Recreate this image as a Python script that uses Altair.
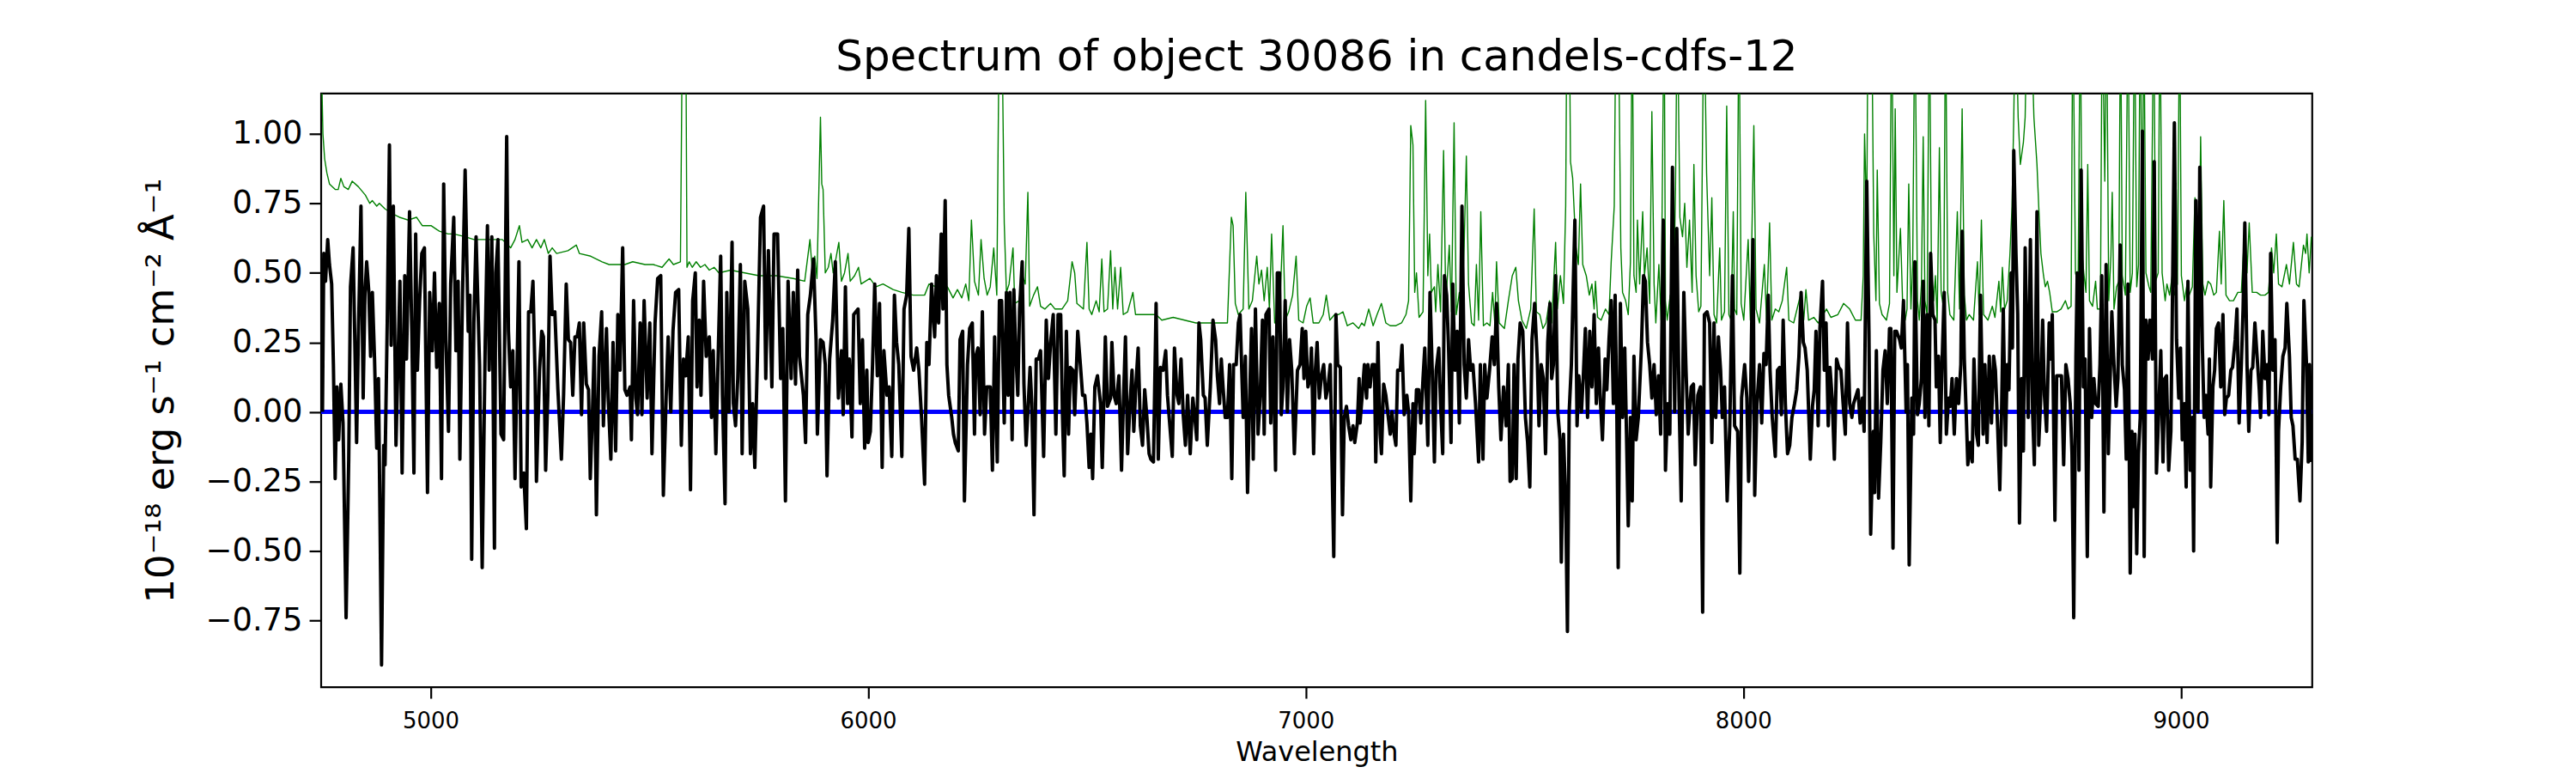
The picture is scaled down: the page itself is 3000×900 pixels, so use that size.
import altair as alt
import pandas as pd

# ---------------- black: object flux (wavelength [A], flux [1e-18 erg/s/cm2/A]) ----------------
flux_4750_5520 = [
    (4753, 0.0), (4756, 0.57), (4760, 0.47), (4765, 0.62), (4769, 0.53), (4774, 0.46), (4778, 0.17),
    (4782, -0.24), (4786, 0.09), (4790, -0.1), (4795, 0.1), (4800, -0.04), (4807, -0.74), (4813, -0.17),
    (4817, 0.45), (4823, 0.59), (4827, 0.25), (4831, -0.11), (4835, 0.27), (4841, 0.74), (4846, 0.05),
    (4850, 0.42), (4854, 0.54), (4859, 0.43), (4863, 0.2), (4867, 0.43), (4872, 0.19), (4877, -0.13),
    (4881, 0.12), (4888, -0.91), (4893, -0.12), (4896, -0.19), (4901, 0.32), (4906, 0.96), (4910, 0.24),
    (4915, 0.74), (4921, -0.12), (4924, 0.08), (4930, 0.47), (4935, -0.22), (4941, 0.49), (4945, 0.19),
    (4952, 0.72), (4957, 0.3), (4962, -0.22), (4966, 0.64), (4970, 0.15), (4975, 0.4), (4980, 0.57),
    (4986, 0.59), (4993, -0.29), (4998, 0.43), (5004, 0.22), (5009, 0.5), (5014, 0.16), (5020, 0.39),
    (5025, -0.24), (5030, 0.82), (5035, 0.26), (5041, -0.07), (5046, 0.46), (5053, 0.7), (5058, 0.22),
    (5063, 0.47), (5067, -0.17), (5073, 0.42), (5079, 0.87), (5086, 0.29), (5090, 0.42), (5094, -0.53),
    (5099, 0.32), (5104, 0.63), (5112, 0.17), (5118, -0.56), (5125, 0.26), (5130, 0.67), (5134, 0.15),
    (5140, 0.63), (5146, -0.49), (5149, 0.5), (5154, 0.62), (5161, -0.08), (5167, -0.1), (5174, 0.99),
    (5178, 0.29), (5183, 0.09), (5188, 0.22), (5193, -0.24), (5202, 0.54), (5207, -0.27), (5213, -0.22),
    (5219, -0.42), (5224, 0.36), (5229, 0.36), (5234, 0.47), (5239, 0.12), (5242, -0.25), (5249, 0.15),
    (5254, 0.29), (5258, 0.27), (5263, -0.21), (5268, 0.06), (5273, 0.56), (5278, 0.35), (5284, 0.36),
    (5291, 0.08), (5299, -0.17), (5304, 0.06), (5310, 0.46), (5315, 0.26), (5320, 0.25), (5325, 0.06),
    (5330, 0.27), (5335, 0.27), (5340, 0.32), (5345, -0.01), (5350, 0.32), (5356, 0.1), (5361, 0.08),
    (5365, -0.24), (5370, 0.0), (5374, 0.23), (5379, -0.37), (5385, 0.2), (5391, 0.36), (5395, -0.05),
    (5402, 0.3), (5406, 0.05), (5412, -0.17), (5417, 0.25), (5423, -0.14), (5428, 0.35), (5433, 0.15),
    (5439, 0.59), (5444, 0.08), (5449, 0.06), (5456, 0.09), (5459, -0.1), (5464, 0.4), (5469, 0.05),
    (5473, -0.01), (5479, 0.32), (5483, -0.01), (5488, 0.4), (5495, 0.05), (5501, 0.32), (5506, -0.15),
    (5513, 0.32), (5519, 0.48),
]
flux_5520_6315 = [
    (5526, 0.49), (5532, -0.3), (5539, 0.09), (5543, 0.27), (5549, 0.0), (5554, 0.29), (5560, 0.43),
    (5567, 0.44), (5573, -0.12), (5578, 0.19), (5583, 0.13), (5589, 0.27), (5594, -0.28), (5599, 0.4),
    (5605, 0.5), (5609, 0.09), (5614, 0.33), (5618, 0.06), (5624, 0.47), (5630, 0.2), (5637, 0.27),
    (5642, -0.02), (5646, 0.22), (5652, -0.15), (5658, 0.25), (5663, 0.56), (5667, 0.06), (5673, -0.33),
    (5677, 0.43), (5682, 0.0), (5689, 0.61), (5692, 0.03), (5697, -0.05), (5702, 0.12), (5708, 0.53),
    (5712, -0.15), (5718, 0.47), (5725, 0.37), (5731, -0.15), (5736, 0.03), (5741, -0.2), (5747, 0.2),
    (5754, 0.7), (5761, 0.74), (5766, 0.12), (5772, 0.58), (5780, 0.09), (5785, 0.64), (5793, 0.64),
    (5800, 0.12), (5805, 0.3), (5811, -0.32), (5817, 0.47), (5824, 0.12), (5829, 0.43), (5834, 0.1),
    (5839, 0.51), (5843, 0.2), (5852, 0.06), (5857, -0.11), (5862, 0.35), (5868, 0.42), (5875, 0.55),
    (5881, 0.26), (5884, -0.08), (5891, 0.26), (5897, 0.25), (5902, 0.17), (5906, -0.23), (5912, 0.19),
    (5919, 0.33), (5925, 0.54), (5932, 0.05), (5939, 0.22), (5943, -0.01), (5948, 0.45), (5953, 0.03),
    (5957, 0.19), (5963, -0.09), (5967, 0.35), (5972, 0.36), (5977, 0.37), (5982, 0.03), (5987, 0.26),
    (5992, -0.13), (5997, 0.15), (6000, -0.11), (6005, -0.07), (6010, 0.17), (6015, 0.46), (6021, 0.13),
    (6026, 0.39), (6032, -0.2), (6036, 0.22), (6043, 0.06), (6048, 0.09), (6054, -0.16), (6060, 0.42),
    (6065, 0.25), (6070, 0.17), (6077, -0.16), (6082, 0.37), (6088, 0.42), (6093, 0.66), (6098, 0.2),
    (6104, 0.15), (6111, 0.23), (6116, 0.15), (6122, -0.02), (6129, -0.26), (6134, 0.25), (6139, 0.17),
    (6145, 0.46), (6152, 0.27), (6156, 0.49), (6161, 0.32), (6167, 0.64), (6171, 0.37), (6176, 0.76),
    (6180, 0.17), (6184, 0.06), (6191, -0.02), (6195, -0.08), (6199, -0.11), (6206, -0.14), (6210, 0.26),
    (6216, 0.29), (6220, -0.32), (6227, 0.17), (6232, 0.3), (6238, 0.32), (6243, -0.08), (6246, 0.2),
    (6251, 0.23), (6256, -0.01), (6261, 0.36), (6266, -0.08), (6271, 0.09), (6279, 0.09), (6284, -0.21),
    (6289, 0.27), (6295, -0.18), (6300, 0.4), (6305, 0.4), (6311, -0.04),
]
flux_6315_7123 = [
    (6316, 0.43), (6320, 0.06), (6324, 0.43), (6329, -0.1), (6333, 0.44), (6337, 0.23), (6342, 0.06),
    (6346, 0.37), (6352, 0.54), (6356, 0.1), (6361, -0.12), (6365, 0.0), (6370, 0.16), (6374, 0.03),
    (6379, -0.37), (6384, 0.19), (6389, 0.19), (6394, 0.22), (6401, -0.16), (6407, 0.33), (6412, 0.12),
    (6417, 0.25), (6423, 0.35), (6429, -0.08), (6434, 0.35), (6440, 0.35), (6444, -0.01), (6448, -0.23),
    (6453, 0.29), (6458, -0.08), (6462, 0.16), (6468, 0.15), (6472, -0.01), (6479, 0.29), (6485, 0.17),
    (6490, 0.06), (6495, 0.06), (6500, -0.04), (6505, -0.2), (6509, -0.08), (6513, -0.24), (6518, 0.09),
    (6524, 0.13), (6531, 0.03), (6535, -0.2), (6542, 0.27), (6547, 0.02), (6554, 0.05), (6557, 0.25),
    (6562, 0.06), (6567, 0.03), (6573, 0.13), (6579, -0.21), (6583, 0.02), (6588, 0.27), (6593, -0.15),
    (6598, 0.02), (6603, 0.15), (6607, -0.07), (6612, 0.1), (6617, 0.23), (6622, -0.05), (6627, -0.12),
    (6632, 0.08), (6637, -0.02), (6642, -0.15), (6646, -0.17), (6652, -0.18), (6658, 0.39), (6663, -0.17),
    (6668, 0.16), (6674, 0.15), (6680, 0.22), (6684, 0.06), (6689, -0.04), (6695, -0.16), (6700, 0.23),
    (6706, 0.06), (6710, 0.03), (6715, 0.19), (6720, -0.01), (6725, -0.12), (6730, 0.06), (6736, -0.15),
    (6742, 0.05), (6746, -0.01), (6751, -0.1), (6756, 0.32), (6760, 0.26), (6766, 0.06), (6770, 0.05),
    (6775, -0.12), (6782, 0.09), (6788, 0.33), (6794, 0.26), (6798, 0.13), (6803, 0.03), (6807, 0.19),
    (6811, 0.09), (6816, -0.02), (6821, -0.02), (6826, 0.17), (6831, -0.24), (6835, 0.17), (6841, 0.17),
    (6846, 0.32), (6850, 0.35), (6857, -0.02), (6862, 0.2), (6867, -0.29), (6872, 0.06), (6876, 0.3),
    (6880, -0.17), (6885, 0.37), (6891, -0.08), (6896, 0.06), (6901, 0.33), (6905, -0.08), (6909, 0.35),
    (6916, 0.37), (6920, -0.04), (6925, 0.27), (6931, -0.21), (6935, 0.5), (6940, 0.5), (6944, -0.01),
    (6948, 0.09), (6953, 0.4), (6958, 0.0), (6963, 0.26), (6968, 0.15), (6974, -0.15), (6981, 0.15),
    (6987, 0.17), (6992, 0.3), (6996, 0.12), (7000, 0.29), (7005, 0.09), (7010, 0.12), (7013, 0.23),
    (7018, -0.15), (7022, 0.15), (7026, 0.25), (7031, 0.05), (7036, 0.13), (7041, 0.17), (7046, 0.05),
    (7051, 0.09), (7056, 0.17), (7064, -0.52), (7069, 0.35), (7073, 0.17), (7079, 0.16), (7084, -0.37),
    (7088, -0.02), (7093, 0.02), (7098, -0.05), (7103, -0.1), (7108, -0.05), (7112, -0.11), (7118, -0.04),
    (7122, 0.12),
]
flux_7123_7930 = [
    (7124, -0.04), (7129, 0.06), (7134, 0.17), (7139, 0.05), (7142, 0.17), (7147, 0.09), (7152, 0.17),
    (7157, 0.17), (7160, -0.18), (7165, 0.25), (7170, -0.08), (7173, -0.15), (7178, 0.1), (7183, 0.06),
    (7188, -0.01), (7193, -0.08), (7197, 0.0), (7201, -0.07), (7206, -0.12), (7210, 0.15), (7216, 0.15),
    (7220, 0.24), (7225, -0.01), (7231, 0.06), (7235, 0.0), (7240, -0.32), (7245, 0.03), (7248, -0.15),
    (7253, 0.08), (7258, 0.08), (7263, -0.04), (7268, 0.12), (7272, 0.23), (7279, -0.12), (7284, 0.43),
    (7289, 0.15), (7294, -0.18), (7298, 0.15), (7304, 0.23), (7308, 0.03), (7313, -0.15), (7317, 0.49),
    (7322, 0.42), (7326, 0.25), (7332, -0.11), (7336, 0.46), (7341, 0.15), (7346, 0.29), (7351, -0.04),
    (7357, 0.74), (7362, 0.17), (7367, 0.05), (7372, 0.26), (7377, 0.15), (7382, 0.17), (7388, 0.03),
    (7395, -0.18), (7399, 0.17), (7405, -0.17), (7409, 0.17), (7414, 0.05), (7420, 0.15), (7426, 0.27),
    (7431, 0.17), (7436, 0.39), (7441, 0.09), (7446, -0.1), (7452, 0.09), (7458, -0.05), (7463, 0.17),
    (7467, -0.25), (7472, -0.24), (7476, 0.17), (7481, -0.24), (7485, 0.19), (7490, 0.32), (7496, 0.29),
    (7502, -0.02), (7507, -0.11), (7512, -0.27), (7517, 0.26), (7523, 0.39), (7529, 0.19), (7533, -0.05),
    (7538, 0.17), (7543, 0.12), (7548, -0.15), (7553, 0.25), (7558, 0.39), (7562, 0.12), (7566, 0.17),
    (7571, 0.49), (7576, 0.0), (7581, -0.1), (7584, -0.54), (7589, -0.08), (7594, -0.32), (7598, -0.79),
    (7602, 0.0), (7607, 0.17), (7610, 0.37), (7615, 0.69), (7620, -0.05), (7624, 0.13), (7630, 0.0),
    (7634, 0.12), (7639, 0.3), (7644, -0.02), (7649, 0.29), (7654, 0.09), (7659, 0.35), (7664, 0.03),
    (7669, 0.23), (7673, 0.05), (7678, -0.1), (7684, 0.19), (7688, 0.08), (7693, 0.26), (7698, 0.4),
    (7703, 0.03), (7707, 0.42), (7711, -0.02), (7714, -0.56), (7719, 0.39), (7724, -0.02), (7729, 0.23),
    (7733, -0.08), (7737, -0.41), (7742, -0.02), (7746, -0.32), (7750, 0.2), (7755, -0.1), (7760, -0.02),
    (7767, 0.23), (7772, 0.49), (7776, 0.47), (7781, 0.25), (7786, 0.17), (7791, 0.05), (7796, 0.17),
    (7801, -0.01), (7806, 0.13), (7811, -0.08), (7817, 0.69), (7822, -0.21), (7827, 0.03), (7832, -0.08),
    (7838, 0.88), (7843, 0.0), (7848, 0.66), (7853, 0.05), (7858, -0.32), (7864, 0.43), (7869, 0.15),
    (7874, -0.08), (7881, 0.09), (7886, 0.1), (7890, -0.19), (7896, 0.06), (7902, 0.09), (7907, -0.72),
    (7911, 0.35), (7917, 0.36), (7923, 0.32), (7928, -0.11),
]
flux_7930_8580 = [
    (7933, 0.32), (7937, -0.02), (7943, 0.27), (7948, 0.15), (7952, -0.02), (7957, 0.09), (7963, -0.32),
    (7969, -0.05), (7975, 0.49), (7980, -0.05), (7987, -0.07), (7992, -0.58), (7996, 0.05), (8003, 0.17),
    (8008, 0.05), (8012, -0.25), (8016, 0.0), (8022, 0.62), (8026, -0.3), (8031, 0.03), (8037, 0.17),
    (8042, -0.04), (8047, 0.21), (8052, 0.17), (8057, 0.42), (8061, 0.15), (8066, -0.02), (8073, -0.16),
    (8078, 0.15), (8083, 0.16), (8087, -0.01), (8091, 0.33), (8096, 0.03), (8101, -0.15), (8106, -0.12),
    (8111, -0.02), (8117, 0.03), (8122, 0.08), (8127, 0.2), (8132, 0.43), (8137, 0.25), (8141, 0.23),
    (8146, 0.15), (8153, -0.17), (8158, 0.02), (8162, 0.08), (8166, 0.29), (8171, -0.05), (8175, 0.3),
    (8181, 0.47), (8185, 0.15), (8189, 0.32), (8194, -0.05), (8198, 0.16), (8203, 0.05), (8208, -0.17),
    (8213, 0.19), (8218, 0.16), (8223, 0.15), (8228, 0.03), (8233, -0.08), (8238, 0.32), (8243, 0.03),
    (8248, -0.02), (8252, 0.03), (8258, 0.06), (8262, 0.08), (8267, -0.04), (8272, 0.05), (8276, -0.07),
    (8282, 0.83), (8287, 0.29), (8291, -0.44), (8297, -0.07), (8300, -0.29), (8304, 0.22), (8309, -0.31),
    (8314, -0.11), (8319, 0.15), (8324, 0.22), (8329, 0.03), (8334, 0.3), (8337, 0.3), (8342, -0.49),
    (8346, 0.29), (8350, 0.29), (8357, 0.26), (8361, 0.23), (8366, 0.4), (8372, 0.0), (8375, 0.17),
    (8379, -0.55), (8385, 0.05), (8389, -0.08), (8392, 0.54), (8398, -0.01), (8402, 0.03), (8407, 0.12),
    (8411, 0.47), (8415, -0.02), (8420, 0.35), (8424, -0.05), (8428, 0.57), (8433, 0.35), (8438, 0.33),
    (8441, 0.09), (8446, 0.2), (8450, -0.11), (8454, 0.17), (8459, 0.43), (8464, -0.08), (8469, 0.05),
    (8473, 0.02), (8477, 0.12), (8482, -0.08), (8487, 0.12), (8492, 0.03), (8497, 0.17), (8500, 0.65),
    (8505, 0.19), (8510, -0.04), (8513, -0.19), (8518, -0.11), (8523, -0.18), (8527, 0.19), (8533, -0.08),
    (8537, -0.12), (8542, 0.42), (8548, -0.08), (8552, 0.17), (8557, -0.11), (8562, 0.2), (8567, -0.04),
    (8572, 0.2), (8576, 0.15),
]
flux_8580_9300 = [
    (8581, -0.05), (8586, -0.28), (8590, -0.01), (8594, 0.37), (8599, -0.12), (8603, 0.17), (8607, 0.08),
    (8612, 0.5), (8615, 0.23), (8618, 0.94), (8623, 0.57), (8627, 0.35), (8631, -0.4), (8636, 0.12),
    (8640, -0.14), (8644, 0.59), (8651, -0.02), (8656, 0.62), (8661, 0.0), (8665, -0.19), (8671, 0.72),
    (8675, -0.12), (8679, 0.03), (8684, 0.33), (8688, 0.06), (8693, -0.07), (8699, 0.32), (8703, 0.19),
    (8706, 0.35), (8712, -0.39), (8716, 0.13), (8723, 0.13), (8727, 0.13), (8732, -0.19), (8737, 0.17),
    (8742, 0.12), (8747, 0.03), (8751, -0.15), (8755, -0.74), (8760, 0.2), (8763, 0.5), (8767, -0.21),
    (8772, 0.87), (8777, 0.09), (8781, 0.19), (8786, -0.52), (8791, 0.3), (8796, -0.02), (8801, 0.12),
    (8805, 0.03), (8811, 0.02), (8815, 0.17), (8819, 0.49), (8824, -0.36), (8829, 0.53), (8834, -0.15),
    (8838, 0.1), (8842, 0.36), (8847, 0.17), (8852, 0.02), (8856, 0.12), (8861, 0.6), (8866, 0.17),
    (8871, 0.08), (8875, -0.17), (8879, 0.46), (8884, -0.58), (8888, -0.07), (8892, -0.34), (8895, -0.08),
    (8899, -0.51), (8903, -0.15), (8907, -0.02), (8912, 1.01), (8916, -0.52), (8920, 0.33), (8925, 0.19),
    (8929, 0.33), (8935, 0.19), (8939, 0.9), (8944, -0.22), (8949, -0.01), (8954, 0.22), (8959, -0.18),
    (8963, 0.12), (8967, 0.13), (8972, -0.21), (8977, -0.07), (8980, 0.32), (8985, 1.04), (8990, 0.26),
    (8995, 0.05), (8999, 0.23), (9003, -0.1), (9008, 0.03), (9012, -0.27), (9016, 0.47), (9021, -0.21),
    (9026, -0.02), (9029, -0.5), (9034, 0.76), (9039, 0.0), (9043, 0.88), (9049, 0.23), (9053, -0.02),
    (9057, 0.06), (9062, -0.08), (9065, 0.19), (9068, -0.27), (9073, 0.09), (9077, 0.15), (9081, 0.3),
    (9086, 0.32), (9091, 0.09), (9096, 0.35), (9100, -0.01), (9104, 0.05), (9109, 0.06), (9114, 0.15),
    (9118, 0.16), (9124, 0.26), (9128, 0.37), (9133, -0.04), (9138, 0.17), (9142, 0.37), (9146, 0.68),
    (9151, 0.17), (9155, -0.07), (9160, 0.15), (9164, 0.16), (9169, 0.32), (9174, 0.2), (9179, 0.08),
    (9182, -0.02), (9187, 0.29), (9192, 0.12), (9197, 0.17), (9201, -0.01), (9205, 0.57), (9210, 0.15),
    (9215, 0.26), (9220, -0.47), (9223, -0.07), (9228, 0.09), (9233, 0.2), (9238, 0.23), (9242, 0.39),
    (9248, 0.2), (9252, -0.02), (9256, -0.05), (9261, -0.17), (9266, -0.17), (9272, -0.32), (9277, -0.11),
    (9281, 0.4), (9287, 0.17), (9291, -0.18), (9294, 0.17), (9298, -0.18),
]

# ---------------- green: sky / noise spectrum ----------------
sky_4750_5520 = [
    (4750, 1.3), (4754, 1.0), (4758, 0.91), (4763, 0.86), (4769, 0.82), (4782, 0.8), (4789, 0.8),
    (4795, 0.84), (4802, 0.81), (4812, 0.8), (4821, 0.83), (4835, 0.81), (4851, 0.78), (4861, 0.75),
    (4867, 0.76), (4877, 0.74), (4883, 0.75), (4896, 0.73), (4916, 0.71), (4929, 0.7), (4949, 0.69),
    (4968, 0.7), (4981, 0.67), (5001, 0.67), (5020, 0.65), (5040, 0.64), (5053, 0.64), (5079, 0.63),
    (5099, 0.62), (5118, 0.62), (5144, 0.62), (5164, 0.62), (5183, 0.59), (5193, 0.62), (5203, 0.67),
    (5209, 0.61), (5222, 0.62), (5232, 0.59), (5242, 0.62), (5252, 0.59), (5260, 0.62), (5269, 0.57),
    (5278, 0.59), (5288, 0.57), (5314, 0.58), (5333, 0.6), (5340, 0.57), (5366, 0.56), (5392, 0.54),
    (5408, 0.53), (5431, 0.53), (5444, 0.53), (5462, 0.54), (5490, 0.53), (5509, 0.53),
]
sky_5520_6310 = [
    (5529, 0.52), (5545, 0.55), (5555, 0.53), (5571, 0.54), (5576, 1.5), (5583, 1.5), (5586, 0.52),
    (5591, 0.54), (5598, 0.52), (5607, 0.54), (5617, 0.52), (5627, 0.53), (5637, 0.51), (5648, 0.52),
    (5659, 0.5), (5686, 0.51), (5718, 0.5), (5751, 0.49), (5790, 0.49), (5829, 0.48), (5855, 0.47),
    (5867, 0.62), (5873, 0.49), (5878, 0.56), (5883, 0.48), (5891, 1.06), (5894, 0.82), (5897, 0.8),
    (5902, 0.5), (5909, 0.52), (5915, 0.57), (5920, 0.5), (5925, 0.54), (5933, 0.61), (5939, 0.47),
    (5946, 0.5), (5954, 0.57), (5959, 0.47), (5969, 0.49), (5978, 0.52), (5984, 0.46), (6004, 0.48),
    (6018, 0.45), (6034, 0.46), (6057, 0.44), (6077, 0.43), (6103, 0.42), (6129, 0.42), (6139, 0.46),
    (6155, 0.45), (6181, 0.45), (6194, 0.41), (6204, 0.44), (6214, 0.41), (6223, 0.46), (6230, 0.4),
    (6236, 0.69), (6243, 0.47), (6252, 0.42), (6258, 0.62), (6265, 0.48), (6272, 0.42), (6279, 0.45),
    (6287, 0.59), (6294, 0.42), (6300, 1.5), (6305, 1.5),
]
sky_6310_7100 = [
    (6311, 0.68), (6316, 0.43), (6322, 0.46), (6331, 0.59), (6335, 0.39), (6345, 0.4), (6353, 0.49),
    (6359, 0.46), (6365, 0.79), (6369, 0.38), (6378, 0.42), (6387, 0.45), (6394, 0.38), (6404, 0.37),
    (6417, 0.39), (6427, 0.37), (6443, 0.37), (6456, 0.4), (6466, 0.54), (6472, 0.5), (6477, 0.39),
    (6492, 0.37), (6500, 0.61), (6505, 0.37), (6511, 0.35), (6521, 0.4), (6528, 0.36), (6534, 0.55),
    (6539, 0.36), (6547, 0.37), (6554, 0.58), (6559, 0.37), (6564, 0.52), (6570, 0.37), (6577, 0.52),
    (6583, 0.35), (6593, 0.36), (6605, 0.43), (6611, 0.35), (6625, 0.35), (6639, 0.35), (6658, 0.35),
    (6671, 0.33), (6697, 0.34), (6723, 0.33), (6749, 0.32), (6775, 0.32), (6801, 0.32), (6821, 0.32),
    (6830, 0.7), (6834, 0.67), (6839, 0.39), (6846, 0.35), (6857, 0.37), (6863, 0.79), (6870, 0.37),
    (6878, 0.4), (6888, 0.56), (6893, 0.46), (6899, 0.51), (6905, 0.4), (6912, 0.52), (6917, 0.37),
    (6922, 0.64), (6929, 0.32), (6935, 0.33), (6942, 0.43), (6948, 0.67), (6953, 0.33), (6961, 0.36),
    (6970, 0.42), (6978, 0.56), (6984, 0.33), (6994, 0.32), (7002, 0.38), (7010, 0.41), (7017, 0.32),
    (7030, 0.32), (7040, 0.35), (7047, 0.42), (7055, 0.33), (7066, 0.35), (7075, 0.35), (7085, 0.36),
    (7095, 0.31),
]
sky_7100_7930 = [
    (7108, 0.32), (7121, 0.3), (7128, 0.32), (7134, 0.31), (7144, 0.37), (7154, 0.31), (7163, 0.35),
    (7173, 0.39), (7183, 0.32), (7193, 0.31), (7206, 0.31), (7219, 0.32), (7229, 0.35), (7235, 0.4),
    (7240, 1.03), (7245, 0.96), (7249, 0.43), (7253, 0.5), (7259, 0.34), (7268, 0.36), (7274, 1.12),
    (7279, 0.49), (7283, 0.64), (7287, 0.43), (7294, 0.45), (7297, 0.36), (7302, 0.53), (7308, 0.36),
    (7315, 0.94), (7320, 0.39), (7328, 0.6), (7333, 0.36), (7339, 1.04), (7344, 0.35), (7351, 0.43),
    (7356, 0.33), (7362, 0.6), (7367, 0.92), (7372, 0.46), (7379, 0.32), (7385, 0.31), (7390, 0.53),
    (7395, 0.33), (7400, 0.72), (7406, 0.31), (7414, 0.32), (7421, 0.31), (7427, 0.43), (7432, 0.32),
    (7436, 0.54), (7442, 0.32), (7454, 0.3), (7463, 0.4), (7472, 0.49), (7480, 0.52), (7486, 0.4),
    (7494, 0.33), (7504, 0.3), (7514, 0.37), (7522, 0.73), (7527, 0.36), (7535, 0.35), (7542, 0.3),
    (7549, 0.32), (7557, 0.4), (7562, 0.32), (7571, 0.61), (7575, 0.37), (7582, 0.49), (7589, 0.39),
    (7594, 0.74), (7597, 1.5), (7602, 1.5), (7605, 0.9), (7610, 0.84), (7617, 0.6), (7623, 0.53),
    (7628, 0.82), (7633, 0.53), (7641, 0.49), (7648, 0.42), (7654, 0.46), (7659, 0.37), (7662, 0.47),
    (7667, 0.34), (7675, 0.33), (7685, 0.37), (7693, 0.35), (7698, 0.54), (7705, 0.74), (7709, 1.5),
    (7714, 1.5), (7720, 0.59), (7724, 0.43), (7731, 0.4), (7737, 0.35), (7742, 0.54), (7746, 1.5),
    (7750, 0.49), (7755, 0.43), (7758, 0.69), (7763, 0.46), (7770, 0.72), (7774, 0.49), (7780, 0.59),
    (7786, 0.39), (7791, 1.08), (7796, 0.46), (7800, 0.32), (7807, 0.53), (7812, 0.33), (7819, 1.5),
    (7822, 0.4), (7826, 0.33), (7833, 0.42), (7840, 0.37), (7845, 0.8), (7849, 1.5), (7855, 0.7),
    (7861, 0.63), (7866, 0.75), (7871, 0.52), (7877, 0.69), (7883, 0.43), (7887, 0.89), (7892, 0.49),
    (7898, 0.36), (7903, 0.38), (7910, 1.5), (7916, 0.86), (7923, 0.49), (7928, 0.77),
]
sky_7930_8580 = [
    (7933, 0.35), (7939, 0.32), (7946, 0.59), (7950, 0.33), (7957, 0.36), (7962, 1.1), (7967, 0.35),
    (7972, 0.33), (7977, 0.72), (7980, 0.37), (7985, 0.35), (7990, 1.5), (7995, 0.39), (8001, 0.33),
    (8011, 0.62), (8016, 0.33), (8024, 1.03), (8029, 0.37), (8037, 0.32), (8048, 0.53), (8053, 0.33),
    (8060, 0.68), (8065, 0.33), (8073, 0.37), (8081, 0.36), (8089, 0.4), (8099, 0.52), (8104, 0.33),
    (8115, 0.32), (8132, 0.43), (8138, 0.33), (8143, 0.44), (8149, 0.33), (8161, 0.34), (8171, 0.32),
    (8190, 0.37), (8200, 0.34), (8216, 0.35), (8229, 0.39), (8243, 0.37), (8256, 0.33), (8269, 0.33),
    (8274, 0.49), (8277, 1.0), (8282, 0.69), (8285, 1.5), (8289, 1.5), (8293, 1.5), (8298, 0.64),
    (8303, 0.4), (8306, 0.87), (8311, 0.39), (8317, 0.35), (8327, 0.33), (8334, 0.39), (8339, 1.5),
    (8344, 0.49), (8347, 1.09), (8351, 0.43), (8359, 0.66), (8364, 0.39), (8370, 0.33), (8374, 0.37),
    (8378, 0.82), (8383, 0.37), (8387, 0.53), (8392, 1.5), (8398, 0.4), (8402, 0.33), (8407, 0.46),
    (8411, 0.99), (8415, 0.4), (8420, 0.35), (8425, 1.5), (8430, 0.49), (8435, 0.4), (8439, 0.49),
    (8443, 0.32), (8448, 0.95), (8452, 0.43), (8458, 0.37), (8462, 1.5), (8467, 0.43), (8472, 0.35),
    (8481, 0.33), (8489, 0.72), (8494, 0.37), (8500, 1.09), (8505, 0.42), (8510, 0.33), (8516, 0.35),
    (8526, 0.33), (8535, 0.54), (8539, 0.35), (8544, 0.69), (8549, 0.35), (8559, 0.33), (8569, 0.38),
    (8575, 0.34),
]
sky_8580_9300 = [
    (8584, 0.47), (8588, 0.36), (8592, 0.52), (8597, 0.37), (8603, 0.4), (8609, 0.56), (8614, 0.74),
    (8618, 1.06), (8622, 1.5), (8628, 1.06), (8633, 0.89), (8640, 0.97), (8644, 1.06), (8649, 1.5),
    (8656, 1.5), (8664, 1.06), (8671, 0.89), (8675, 0.74), (8680, 0.57), (8686, 0.49), (8690, 0.45),
    (8695, 0.47), (8700, 0.43), (8706, 0.36), (8716, 0.36), (8726, 0.37), (8736, 0.4), (8742, 0.37),
    (8749, 0.38), (8753, 1.5), (8759, 0.5), (8765, 0.46), (8770, 1.5), (8774, 0.57), (8778, 0.5),
    (8783, 0.43), (8787, 0.89), (8791, 0.4), (8798, 0.38), (8805, 0.47), (8809, 0.37), (8816, 0.37),
    (8820, 1.5), (8826, 0.83), (8830, 1.5), (8835, 0.4), (8840, 0.56), (8843, 0.79), (8847, 0.37),
    (8853, 0.45), (8858, 0.47), (8862, 1.5), (8866, 0.49), (8873, 0.42), (8879, 1.5), (8884, 0.43),
    (8889, 0.5), (8894, 1.5), (8899, 0.45), (8903, 0.53), (8907, 1.5), (8912, 0.52), (8915, 1.5),
    (8920, 0.5), (8927, 0.45), (8931, 0.43), (8938, 1.5), (8942, 0.47), (8948, 0.5), (8952, 1.5),
    (8957, 0.5), (8964, 0.4), (8968, 0.46), (8974, 0.42), (8980, 0.49), (8985, 0.42), (8992, 0.46),
    (8997, 1.5), (9001, 0.49), (9008, 0.4), (9014, 0.46), (9019, 0.42), (9026, 0.45), (9032, 0.77),
    (9037, 0.43), (9041, 0.43), (9045, 0.99), (9050, 0.46), (9055, 0.42), (9062, 0.47), (9068, 0.46),
    (9075, 0.42), (9081, 0.43), (9088, 0.65), (9092, 0.46), (9098, 0.76), (9103, 0.42), (9111, 0.4),
    (9120, 0.4), (9130, 0.43), (9138, 0.43), (9146, 0.67), (9151, 0.5), (9156, 0.68), (9163, 0.43),
    (9173, 0.43), (9182, 0.42), (9192, 0.42), (9200, 0.43), (9207, 0.59), (9212, 0.5), (9218, 0.64),
    (9223, 0.46), (9231, 0.45), (9241, 0.53), (9248, 0.46), (9257, 0.61), (9264, 0.46), (9270, 0.45),
    (9280, 0.6), (9285, 0.57), (9288, 0.64), (9293, 0.5), (9298, 0.63),
]

# blue zero reference line
zero_wavelength = [4750, 9300]
zero_flux = [0.0, 0.0]

x_ticks = [5000, 6000, 7000, 8000, 9000]
y_ticks = [-0.75, -0.5, -0.25, 0.0, 0.25, 0.5, 0.75, 1.0]
x_domain = [4750, 9300]
y_domain = [-0.99, 1.145]

title_text = "Spectrum of object 30086 in candels-cdfs-12"
x_title = "Wavelength"
y_title = "10\u207b\u00b9\u2078 erg s\u207b\u00b9 cm\u207b\u00b2 \u00c5\u207b\u00b9"

# ---------------- build tables ----------------
cols = ["wavelength", "flux"]
flux_df = pd.DataFrame(flux_4750_5520 + flux_5520_6315 + flux_6315_7123 + flux_7123_7930
                       + flux_7930_8580 + flux_8580_9300, columns=cols)
sky_df = pd.DataFrame(sky_4750_5520 + sky_5520_6310 + sky_6310_7100 + sky_7100_7930
                      + sky_7930_8580 + sky_8580_9300, columns=cols)
zero_df = pd.DataFrame({"wavelength": zero_wavelength, "flux": zero_flux})

FONT = "DejaVu Sans"
W, H = 2325, 693

x_enc = alt.X(
    "wavelength:Q",
    scale=alt.Scale(domain=x_domain, nice=False, zero=False),
    axis=alt.Axis(
        values=x_ticks, format="d", title=x_title, grid=False, domain=False,
        labelFontSize=26, labelFont=FONT, labelColor="black", labelPadding=14,
        tickSize=13, tickWidth=2.2, tickColor="black",
        titleFontSize=32, titleFont=FONT, titleFontWeight="normal", titleColor="black",
        titleBaseline="middle", titleY=76, titleX=W / 2, titleAlign="center",
    ),
)
y_enc = alt.Y(
    "flux:Q",
    scale=alt.Scale(domain=y_domain, nice=False, zero=False),
    axis=alt.Axis(
        values=y_ticks, format=".2f", title=y_title, grid=False, domain=False,
        labelFontSize=37, labelFont=FONT, labelColor="black", labelPadding=8,
        tickSize=14, tickWidth=2.2, tickColor="black",
        titleFontSize=45, titleFont=FONT, titleFontWeight="normal", titleColor="black",
        titleAngle=270, titleX=-187, titleY=H / 2, titleAlign="center", titleBaseline="middle",
    ),
)

sky_layer = alt.Chart(sky_df).mark_line(
    color="#008000", strokeWidth=1.4, clip=True, strokeJoin="round"
).encode(x=x_enc, y=y_enc)

zero_layer = alt.Chart(zero_df).mark_line(
    color="#0000ff", strokeWidth=5, clip=True
).encode(x=x_enc, y=y_enc)

flux_layer = alt.Chart(flux_df).mark_line(
    color="black", strokeWidth=4, clip=True, strokeJoin="round"
).encode(x=x_enc, y=y_enc)

chart = (
    alt.layer(sky_layer, zero_layer, flux_layer)
    .properties(
        width=W,
        height=H,
        title=alt.TitleParams(
            title_text, fontSize=50, font=FONT, fontWeight="normal", color="black",
            anchor="middle", baseline="alphabetic", offset=28, dy=51,
        ),
        autosize=alt.AutoSizeParams(type="none"),
        padding={"left": 367, "top": 100, "right": 300, "bottom": 99},
    )
    .configure_view(stroke="black", strokeWidth=2.2)
)

chart.save("out.html", embed_options={"renderer": "svg", "actions": False})
